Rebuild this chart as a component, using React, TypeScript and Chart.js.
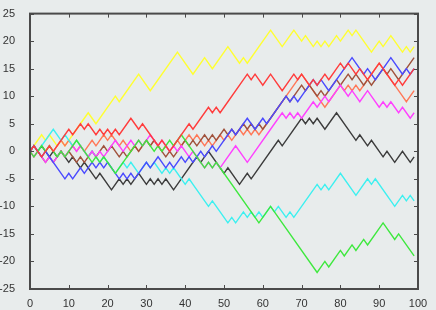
import React, { useEffect, useRef } from 'react';
import { Chart, registerables } from 'chart.js';

Chart.register(...registerables);

// Tick values
const xTickValues = [0, 10, 20, 30, 40, 50, 60, 70, 80, 90, 100];
const yTickValues = [-25, -20, -15, -10, -5, 0, 5, 10, 15, 20, 25];

// Vertices [step, value] of each random walk (turning points)
const yellowWalk: [number, number][] = [[0,0],[3,3],[4,2],[5,3],[7,1],[8,2],[9,1],[13,5],[15,7],[17,5],[22,10],[23,9],[28,14],[31,11],[38,18],[42,14],[45,17],[47,15],[51,19],[54,16],[55,17],[56,16],[62,22],[65,19],[68,22],[70,20],[71,21],[73,19],[74,20],[75,19],[76,20],[77,19],[79,21],[80,20],[82,22],[83,21],[84,22],[88,18],[90,20],[91,19],[93,21],[96,18],[97,19],[98,18],[99,19]];
const redWalk: [number, number][] = [[0,0],[1,1],[2,0],[3,-1],[5,1],[6,0],[10,4],[11,3],[13,5],[14,4],[15,5],[17,3],[18,4],[19,3],[20,4],[21,3],[22,4],[23,3],[26,6],[27,5],[28,4],[29,5],[31,3],[33,1],[34,2],[36,0],[41,5],[42,4],[46,8],[47,7],[48,8],[49,7],[50,8],[56,14],[57,13],[58,14],[60,12],[62,14],[65,11],[68,14],[69,13],[70,14],[72,12],[73,13],[74,12],[76,14],[77,13],[80,16],[81,15],[82,16],[84,14],[85,15],[87,13],[90,16],[94,12],[95,13],[96,12],[99,15]];
const salmonWalk: [number, number][] = [[0,0],[1,-1],[2,0],[3,-1],[5,1],[6,0],[8,2],[9,1],[10,2],[12,0],[13,1],[14,0],[16,2],[17,1],[19,3],[20,2],[21,3],[23,1],[24,2],[26,0],[27,1],[28,0],[30,2],[31,1],[32,2],[34,0],[35,1],[36,0],[38,2],[39,1],[41,3],[42,2],[43,3],[45,1],[46,2],[47,1],[49,3],[50,2],[51,3],[52,2],[54,4],[55,3],[56,4],[57,3],[58,4],[59,3],[61,5],[70,14],[76,8],[80,12],[81,11],[82,12],[83,11],[84,12],[85,11],[90,16],[96,10],[97,9],[99,11]];
const brownWalk: [number, number][] = [[0,0],[1,1],[2,0],[4,-2],[5,-1],[6,-2],[8,0],[9,-1],[10,0],[12,-2],[13,-1],[14,-2],[16,0],[17,-1],[19,1],[20,0],[21,1],[23,-1],[24,0],[25,-1],[27,1],[28,0],[30,2],[31,1],[32,2],[35,-1],[36,0],[37,-1],[40,2],[41,1],[42,2],[43,1],[45,3],[46,2],[47,3],[48,2],[50,4],[51,3],[52,4],[53,3],[55,5],[56,4],[57,5],[58,4],[59,5],[60,4],[66,10],[67,9],[70,12],[71,11],[72,12],[74,10],[75,11],[76,10],[79,13],[80,12],[82,14],[83,13],[84,14],[86,12],[87,13],[88,12],[91,15],[92,14],[93,15],[95,13],[99,17]];
const blueWalk: [number, number][] = [[0,0],[1,1],[3,-1],[4,0],[9,-5],[10,-4],[11,-5],[13,-3],[14,-4],[16,-2],[17,-3],[18,-2],[19,-3],[20,-2],[23,-5],[24,-4],[25,-5],[26,-4],[27,-5],[30,-2],[31,-3],[33,-1],[35,-3],[36,-2],[37,-3],[39,-1],[40,-2],[41,-1],[42,-2],[44,0],[45,-1],[47,1],[48,0],[52,4],[53,3],[56,6],[58,4],[60,6],[61,5],[66,10],[67,9],[68,10],[69,9],[70,10],[73,13],[74,12],[75,13],[77,11],[83,17],[86,14],[87,15],[89,13],[93,17],[96,14],[97,15],[98,14],[99,15]];
const magentaWalk: [number, number][] = [[0,0],[1,-1],[2,0],[4,-2],[5,-1],[6,-2],[8,0],[9,-1],[11,1],[12,0],[13,1],[15,-1],[16,0],[17,-1],[18,0],[19,-1],[22,2],[24,0],[26,2],[27,1],[28,2],[29,1],[31,3],[33,1],[34,2],[36,0],[37,1],[38,0],[39,1],[41,-1],[42,0],[45,-3],[46,-2],[47,-3],[48,-2],[49,-3],[53,1],[56,-2],[62,4],[65,7],[66,6],[67,7],[68,6],[69,7],[70,6],[73,9],[74,8],[76,10],[77,9],[80,12],[82,10],[83,11],[85,9],[87,11],[90,8],[91,9],[92,8],[93,9],[95,7],[96,8],[98,6],[99,7]];
const blackWalk: [number, number][] = [[0,0],[1,1],[2,0],[3,1],[5,-1],[6,0],[7,-1],[8,0],[10,-2],[11,-1],[13,-3],[14,-2],[17,-5],[18,-4],[21,-7],[23,-5],[24,-6],[25,-5],[26,-6],[28,-4],[30,-6],[31,-5],[32,-6],[33,-5],[34,-6],[35,-5],[37,-7],[43,-1],[44,-2],[46,0],[50,-4],[51,-3],[54,-6],[56,-4],[57,-5],[58,-4],[64,2],[65,1],[70,6],[71,5],[72,6],[73,5],[74,6],[76,4],[79,7],[84,2],[85,3],[87,1],[88,2],[91,-1],[92,0],[94,-2],[96,0],[98,-2],[99,-1]];
const cyanWalk: [number, number][] = [[0,0],[1,1],[2,0],[6,4],[8,2],[9,3],[11,1],[12,2],[15,-1],[16,0],[18,-2],[19,-1],[22,-4],[24,-2],[25,-3],[26,-2],[28,-4],[30,-2],[31,-3],[32,-2],[34,-4],[35,-3],[36,-4],[37,-3],[40,-6],[41,-5],[42,-6],[46,-10],[47,-9],[48,-10],[51,-13],[52,-12],[53,-13],[55,-11],[56,-12],[57,-11],[58,-12],[59,-11],[60,-12],[62,-10],[63,-11],[64,-10],[66,-12],[67,-11],[68,-12],[74,-6],[75,-7],[76,-6],[77,-7],[80,-4],[84,-8],[87,-5],[88,-6],[89,-5],[94,-10],[96,-8],[97,-9],[98,-8],[99,-9]];
const greenWalk: [number, number][] = [[0,0],[1,-1],[2,0],[3,1],[4,0],[5,1],[7,-1],[8,0],[9,-1],[12,2],[16,-2],[17,-1],[18,-2],[19,-1],[22,-4],[26,0],[28,2],[29,1],[30,2],[32,0],[33,1],[34,0],[36,2],[37,1],[39,3],[41,1],[44,-2],[45,-3],[46,-2],[47,-3],[48,-2],[59,-13],[62,-10],[74,-22],[76,-20],[77,-21],[80,-18],[81,-19],[83,-17],[84,-18],[86,-16],[87,-17],[91,-13],[94,-16],[95,-15],[99,-19]];

const walks = [redWalk, greenWalk, blueWalk, magentaWalk, cyanWalk, brownWalk, salmonWalk, blackWalk, yellowWalk];
const walkColors = ['#ff3c3c', '#3ee83e', '#4a4aff', '#ff40ff', '#3cf0f0', '#a0523c', '#ff7858', '#3c3c3c', '#ffff30'];

const BG = '#e8ecec';
const AXIS = '#4a4a4a';
const LABEL_FONT = { family: 'Liberation Sans, Arial, sans-serif', size: 11 };

const bgPlugin = {
  id: 'bgFill',
  beforeDraw(chart: any) {
    const ctx = chart.ctx;
    ctx.save();
    ctx.fillStyle = BG;
    ctx.fillRect(0, 0, chart.width, chart.height);
    ctx.restore();
  },
};

const framePlugin = {
  id: 'frameTicks',
  afterDatasetsDraw(chart: any) {
    const { ctx, chartArea } = chart;
    const { left, right, top, bottom } = chartArea;
    const xs = chart.scales.x;
    const ys = chart.scales.y;
    ctx.save();
    ctx.strokeStyle = AXIS;
    ctx.lineWidth = 1;
    const tl = 4;
    ctx.beginPath();
    xTickValues.forEach((v) => {
      const px = Math.round(xs.getPixelForValue(v)) + 0.5;
      ctx.moveTo(px, bottom);
      ctx.lineTo(px, bottom - tl);
      ctx.moveTo(px, top);
      ctx.lineTo(px, top + tl);
    });
    yTickValues.forEach((v) => {
      const py = Math.round(ys.getPixelForValue(v)) + 0.5;
      ctx.moveTo(left, py);
      ctx.lineTo(left + tl, py);
      ctx.moveTo(right, py);
      ctx.lineTo(right - tl, py);
    });
    ctx.stroke();
    ctx.lineWidth = 2;
    ctx.strokeRect(left, top, right - left, bottom - top);
    ctx.restore();
  },
};

export default function App() {
  const ref = useRef<HTMLCanvasElement>(null);
  useEffect(() => {
    document.body.style.margin = '0';
    const canvas = ref.current;
    if (!canvas) return;
    const chart = new Chart(canvas, {
      type: 'line',
      data: {
        datasets: walks.map((w, i) => ({
          data: w.map(([x, y]) => ({ x, y })),
          borderColor: walkColors[i],
          backgroundColor: walkColors[i],
          borderWidth: 1.4,
          pointRadius: 0,
          fill: false,
          tension: 0,
        })),
      },
      options: {
        animation: false,
        responsive: false,
        maintainAspectRatio: false,
        events: [],
        layout: { padding: { left: 0, right: 18, top: 13, bottom: 0 } },
        plugins: { legend: { display: false }, tooltip: { enabled: false } },
        scales: {
          x: {
            type: 'linear',
            min: 0,
            max: 100,
            afterBuildTicks: (s: any) => { s.ticks = xTickValues.map((v) => ({ value: v })); },
            ticks: { color: '#333', font: LABEL_FONT, padding: 0, maxRotation: 0, autoSkip: false },
            grid: { display: false },
            border: { display: false },
            afterFit: (s: any) => { s.height = 21; },
          },
          y: {
            type: 'linear',
            min: -25,
            max: 25,
            afterBuildTicks: (s: any) => { s.ticks = yTickValues.map((v) => ({ value: v })); },
            ticks: { color: '#333', font: LABEL_FONT, padding: 7, autoSkip: false },
            grid: { display: false },
            border: { display: false },
            afterFit: (s: any) => { s.width = 30; },
          },
        },
      },
      plugins: [bgPlugin, framePlugin],
    });
    return () => chart.destroy();
  }, []);
  return (
    <div style={{ position: 'fixed', left: 0, top: 0, width: 436, height: 310 }}>
      <canvas ref={ref} width={436} height={310} style={{ display: 'block' }} />
    </div>
  );
}
